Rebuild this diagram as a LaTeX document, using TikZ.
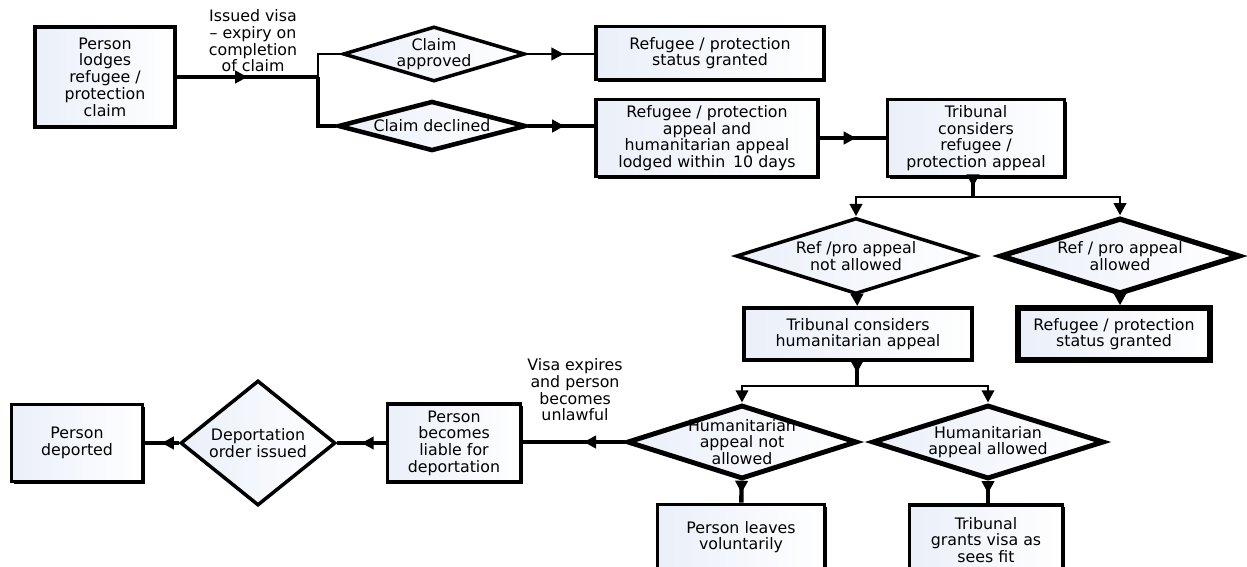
\documentclass[tikz,border=0pt]{standalone}
\usepackage{fontspec}
\setmainfont{DejaVu Sans}
\usetikzlibrary{arrows.meta, positioning, shapes.geometric, shadows, decorations.markings}
\definecolor{pale_blue}{RGB}{234,239,249}
\tikzset{
	>={Triangle[length=7pt,width=7pt]},
	txt/.style={font=\fontsize{9}{9.5}\selectfont, align=center, inner sep=0pt},
	stepbox/.style={txt, draw, line width=2.2pt, left color=pale_blue, right color=white,
		drop shadow={shadow xshift=1.2pt, shadow yshift=-1.2pt, fill=black, opacity=1}},
	decision/.style={diamond, draw, line width=2pt, inner sep=0pt, left color=pale_blue, right color=white,
		label={[txt]center:#1}},
	flow/.style={line width=2.5pt},
	thinflow/.style={line width=1.6pt},
	midarrow/.style={postaction={decorate}, decoration={markings, mark=at position #1 with {\arrow{>}}}},
	midarrow/.default=0.5
}

\begin{document}
\begin{tikzpicture}[x=0.02cm,y=-0.02cm,line join=miter]
		\clip (0,0) rectangle (1247,566);
		\begin{scope}
		\node[stepbox, minimum width=2.8cm, minimum height=2cm]     (lodge)    at (105,77)  {Person\\lodges\\refugee /\\protection\\claim};
		\node[txt]                                                    (visa)     at (253,41)  {Issued visa\\– expiry on\\completion\\of claim};
		\coordinate (split) at (318,77);
		\node[decision={Claim\\approved}, minimum width=3.64cm, minimum height=1.1cm]  (approved) at (434,54)  {};
		\node[decision={Claim declined}, minimum width=3.76cm, minimum height=1cm, line width=2.6pt] (declined) at (432,126) {};
		\node[stepbox, minimum width=4.56cm, minimum height=1.06cm]  (status1)  at (710,53)  {Refugee / protection\\status granted};
		\node[stepbox, minimum width=4.44cm, minimum height=1.54cm]  (appeal)   at (707,138) {Refugee / protection\\appeal and\\humanitarian appeal\\lodged within\enspace 10 days};
		\node[stepbox, minimum width=3.54cm, minimum height=1.54cm]  (tribunal) at (976,138) {Tribunal\\considers\\refugee /\\protection appeal};
		\coordinate (split2) at (973,197);
		\node[decision={Ref /pro appeal\\not allowed}, minimum width=4.8cm, minimum height=1.52cm]       (refno)  at (856,256) {};
		\node[decision={Ref / pro appeal\\allowed}, minimum width=4.8cm, minimum height=1.52cm, line width=3pt] (refyes) at (1120,256) {};
		\node[stepbox, minimum width=4.56cm, minimum height=1.04cm]  (humbox)   at (858,334) {Tribunal considers\\humanitarian appeal};
		\node[stepbox, minimum width=3.84cm, minimum height=1.04cm, line width=3pt] (status2) at (1114,334) {Refugee / protection\\status granted};
		\coordinate (split3) at (857,386);
		\node[decision={Humanitarian\\appeal not\\allowed}, minimum width=4.6cm, minimum height=1.48cm, line width=2.8pt]  (humno)  at (742,442) {};
		\node[decision={Humanitarian\\appeal allowed}, minimum width=4.64cm, minimum height=1.48cm, line width=2.8pt]    (humyes) at (988,442) {};
		\node[stepbox, minimum width=3.34cm, minimum height=1.3cm]   (leaves)   at (741,537) {Person leaves\\voluntarily};
		\node[stepbox, minimum width=3.06cm, minimum height=1.4cm]   (grants)   at (986,540) {Tribunal\\grants visa as\\sees fit};
		\node[stepbox, minimum width=2.66cm, minimum height=1.56cm]  (liable)   at (454,443) {Person\\becomes\\liable for\\deportation};
		\node[txt]                                                    (expire)   at (575,390) {Visa expires\\and person\\becomes\\unlawful};
		\node[decision={Deportation\\order issued}, minimum width=3.1cm, minimum height=2.5cm]  (deport) at (258,443) {};
		\node[stepbox, minimum width=2.62cm, minimum height=1.54cm]  (deported) at (77,443)  {Person\\deported};
		\end{scope}
		\draw[flow, midarrow=0.5] (lodge.east) -- (split);
		\draw[thinflow] (split) |- (approved.west);
		\draw[flow] (split) |- (declined.west);
		\draw[thinflow, midarrow=0.55] (approved.east) -- (approved.east -| status1.west);
		\draw[flow, midarrow=0.55] (declined.east) -- (declined.east -| appeal.west);
		\draw[flow, midarrow=0.55] (appeal) -- (tribunal);
		\draw[flow, midarrow=0.45] (tribunal.south -| split2) -- (split2);
		\foreach\d in {refno,refyes}
			\draw[thinflow, ->] (split2) -| (\d.north);
		\draw[flow, ->] (refno) -- (humbox);
		\draw[flow, ->] (refyes.south) -- (refyes.south |- status2.north);
		\draw[flow, midarrow=0.45] (humbox.south -| split3) -- (split3);
		\foreach\d in {humno,humyes}
			\draw[thinflow, ->] (split3) -| (\d.north);
		\draw[flow, midarrow=0.55] (humno) -- (leaves);
		\draw[flow, midarrow=0.55] (humyes) -- (humyes |- grants.north);
		\draw[flow, midarrow=0.4] (humno.west) -- (humno.west -| liable.east);
		\draw[flow, midarrow=0.5] (liable) -- (deport);
		\draw[flow, midarrow=0.5] (deport) -- (deported);
	\end{tikzpicture}
\end{document}
